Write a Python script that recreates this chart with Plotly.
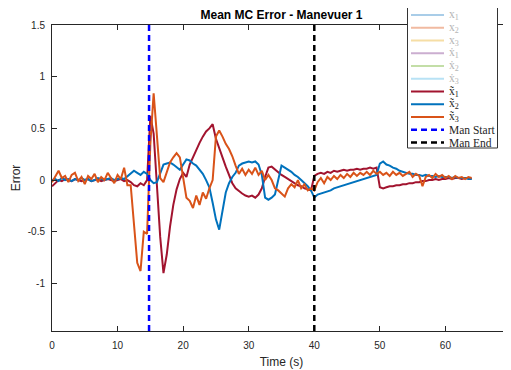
import plotly.graph_objects as go

# ---------------- data ----------------
time_s = [i * 0.5 for i in range(129)]  # 0 .. 64 s sample times

err_x1 = [
    -0.06, -0.03, 0.00, -0.01, 0.01, 0.00, -0.01, 0.01, 0.00, -0.01,
    0.00, 0.01, -0.01, 0.00, 0.01, -0.01, 0.00, 0.01, 0.00, -0.01,
    0.00, 0.01, -0.01, 0.00, -0.02, -0.05, -0.06, -0.03, -0.05, 0.00,
    0.62, 0.45, -0.05, -0.55, -0.90, -0.72, -0.45, -0.24, -0.09, 0.01,
    0.07, 0.03, 0.15, 0.22, 0.30, 0.36, 0.42, 0.47, 0.50, 0.54,
    0.40, 0.30, 0.22, 0.13, 0.05, -0.03, -0.08, -0.11, -0.13, -0.15,
    -0.16, -0.15, -0.17, -0.14, -0.08, 0.03, 0.12, 0.13, 0.10, 0.07,
    0.05, 0.03, 0.01, -0.01, -0.03, -0.05, -0.06, -0.08, -0.09, -0.10,
    0.04, 0.06, 0.07, 0.06, 0.08, 0.07, 0.09, 0.08, 0.09, 0.10,
    0.09, 0.10, 0.10, 0.11, 0.10, 0.11, 0.11, 0.12, 0.11, 0.12,
    -0.07, -0.08, -0.07, -0.06, -0.06, -0.05, -0.05, -0.04, -0.04, -0.03,
    -0.03, -0.02, -0.02, -0.01, -0.01, 0.00, 0.00, 0.01, 0.00, 0.01,
    0.01, 0.02, 0.01, 0.02, 0.02, 0.01, 0.02, 0.02, 0.01,
]

err_x2 = [
    0.00, 0.01, -0.01, 0.02, 0.00, 0.01, -0.01, 0.01, 0.00, 0.02,
    0.00, 0.01, -0.01, 0.00, 0.02, 0.01, 0.00, 0.01, 0.02, 0.00,
    0.01, 0.02, 0.01, 0.04, 0.06, 0.09, 0.07, 0.05, 0.08, 0.06,
    0.00, -0.03, -0.02, 0.07, 0.15, 0.16, 0.17, 0.15, 0.12, 0.10,
    0.15, 0.20, 0.19, 0.16, 0.14, 0.10, 0.06, 0.00, -0.07, -0.22,
    -0.38, -0.48, -0.28, -0.12, -0.03, 0.03, 0.07, 0.14, 0.16, 0.17,
    0.18, 0.17, 0.18, 0.15, 0.05, -0.17, -0.19, -0.17, -0.14, 0.00,
    0.14, 0.12, 0.10, 0.08, 0.05, 0.03, 0.00, -0.03, -0.06, -0.10,
    -0.17, -0.14, -0.13, -0.12, -0.11, -0.10, -0.08, -0.07, -0.06, -0.05,
    -0.04, -0.03, -0.02, -0.01, 0.00, 0.01, 0.02, 0.03, 0.04, 0.05,
    0.16, 0.18, 0.15, 0.14, 0.12, 0.11, 0.09, 0.08, 0.07, 0.06,
    0.06, 0.05, 0.05, 0.04, 0.05, 0.04, 0.04, 0.03, 0.04, 0.03,
    0.03, 0.03, 0.02, 0.03, 0.02, 0.02, 0.02, 0.01, 0.01,
]

err_x3 = [
    -0.02, 0.03, 0.09, 0.02, 0.04, -0.02, 0.05, 0.07, -0.01, 0.03,
    -0.04, 0.04, 0.01, 0.06, -0.02, 0.03, 0.00, 0.07, 0.02, -0.03,
    0.05, 0.01, 0.12, -0.05, -0.05, -0.45, -0.80, -0.88, -0.50, -0.52,
    0.35, 0.84, 0.40, 0.02, -0.02, 0.08, 0.17, 0.22, 0.26, 0.22,
    0.00, -0.17, -0.20, -0.27, -0.15, -0.24, -0.12, -0.18, -0.08, 0.00,
    0.42, 0.48, 0.42, 0.35, 0.30, 0.23, 0.14, 0.06, 0.11, 0.05,
    0.10, 0.06, 0.12, 0.05, 0.09, 0.00, 0.05, 0.00, -0.08, -0.10,
    -0.13, -0.16, -0.08, -0.04, -0.07, 0.00, -0.08, -0.04, -0.10, -0.08,
    -0.10, -0.02, 0.02, -0.03, 0.03, 0.00, 0.04, 0.01, 0.05, 0.02,
    0.06, 0.03, 0.07, 0.04, 0.07, 0.05, 0.08, 0.05, 0.09, 0.06,
    0.08, 0.05, 0.07, 0.04, 0.08, 0.05, 0.07, 0.04, 0.06, 0.08,
    0.03, 0.06, 0.04, -0.06, 0.03, 0.05, 0.02, 0.06, 0.03, 0.05,
    0.02, 0.04, 0.01, 0.04, 0.02, 0.03, 0.01, 0.03, 0.02,
]

man_start = 14.8
man_end = 40.0

x_ticks = [0, 10, 20, 30, 40, 50, 60, 70]
y_ticks = [-1, -0.5, 0, 0.5, 1, 1.5]
y_tick_text = ["-1", "-0.5", "0", "0.5", "1", "1.5"]

legend_names = ["x<sub>1</sub>", "x<sub>2</sub>", "x<sub>3</sub>",
                "ẋ<sub>1</sub>", "ẋ<sub>2</sub>", "ẋ<sub>3</sub>",
                "x̃<sub>1</sub>", "x̃<sub>2</sub>", "x̃<sub>3</sub>",
                "Man Start", "Man End"]
legend_colors = ["#a9cde8", "#f1baa1", "#f6dea5", "#cbaed0", "#c3dea7", "#b8e2f5",
                 "#A2142F", "#0072BD", "#D95319", "#0000ff", "#000000"]
legend_text_colors = ["#b5b5b5"] * 6 + ["#262626"] * 5
legend_dash = [None] * 9 + ["dash", "dash"]

# ---------------- figure ----------------
OFF = 8                      # page body margin of the browser
SCR_W, SCR_H = 511, 370
W, H = SCR_W - OFF, SCR_H - OFF
L, R, T, B = 52 - OFF, 511 - OFF, 25 - OFF, 331 - OFF   # plot box in figure px

def pxx(x):   # screen px -> paper x
    return (x - OFF - L) / (R - L)

def pxy(y):   # screen px -> paper y
    return (B - (y - OFF)) / (B - T)

fig = go.Figure()
for ys, col in [(err_x1, "#A2142F"), (err_x2, "#0072BD"), (err_x3, "#D95319")]:
    fig.add_trace(go.Scatter(x=time_s, y=ys, mode="lines",
                             line=dict(color=col, width=2), showlegend=False,
                             hoverinfo="skip"))

fig.add_vline(x=man_start, line=dict(color="#0000ff", width=2.5, dash="6px,4px"))
fig.add_vline(x=man_end, line=dict(color="#000000", width=2.5, dash="6px,4px"))

# legend box drawn manually (MATLAB-style compact spacing)
box_l, box_r, box_t, box_b = 407.5, 497.5, 3, 148
fig.add_shape(type="rect", xref="paper", yref="paper",
              x0=pxx(box_l), x1=pxx(box_r), y0=pxy(box_b), y1=pxy(box_t),
              fillcolor="white", line=dict(color="#333333", width=1), layer="above")
for i, (nm, c, tc, d) in enumerate(zip(legend_names, legend_colors, legend_text_colors, legend_dash)):
    yy = 15 + i * 12.75
    fig.add_shape(type="line", xref="paper", yref="paper",
                  x0=pxx(411), x1=pxx(444), y0=pxy(yy), y1=pxy(yy),
                  line=dict(color=c, width=2.5 if d else 2, dash="6px,4px" if d else "solid"),
                  layer="above")
    fig.add_annotation(xref="paper", yref="paper", x=pxx(447), y=pxy(yy),
                       xanchor="left", yanchor="middle", showarrow=False,
                       text=nm, font=dict(family="Liberation Serif", size=11.5, color=tc))

axis_common = dict(showline=True, linecolor="#262626", linewidth=1, mirror="allticks",
                   ticks="inside", ticklen=5, tickcolor="#262626", showgrid=False,
                   zeroline=False, tickfont=dict(family="Liberation Sans", size=10, color="#262626"))

fig.update_layout(
    width=W, height=H,
    margin=dict(l=L, r=W - R, t=T, b=H - B, autoexpand=False),
    paper_bgcolor="white", plot_bgcolor="white",
    title=dict(text="<b>Mean MC Error - Manevuer 1</b>", x=0.5, xref="paper",
               y=1 - (15 - OFF) / H, yref="container", xanchor="center", yanchor="middle",
               font=dict(family="Liberation Sans", size=12, color="#000000")),
    xaxis=dict(range=[0, 70], tickvals=x_ticks, ticklabelstandoff=5,
               title=dict(text="Time (s)", standoff=7,
                          font=dict(family="Liberation Sans", size=12, color="#262626")),
               **axis_common),
    yaxis=dict(range=[-1.46, 1.5], tickvals=y_ticks, ticktext=y_tick_text, ticklabelstandoff=4,
               title=dict(text="Error", standoff=4,
                          font=dict(family="Liberation Sans", size=12, color="#262626")),
               **axis_common),
    showlegend=False,
)

fig.write_html("out.html")
